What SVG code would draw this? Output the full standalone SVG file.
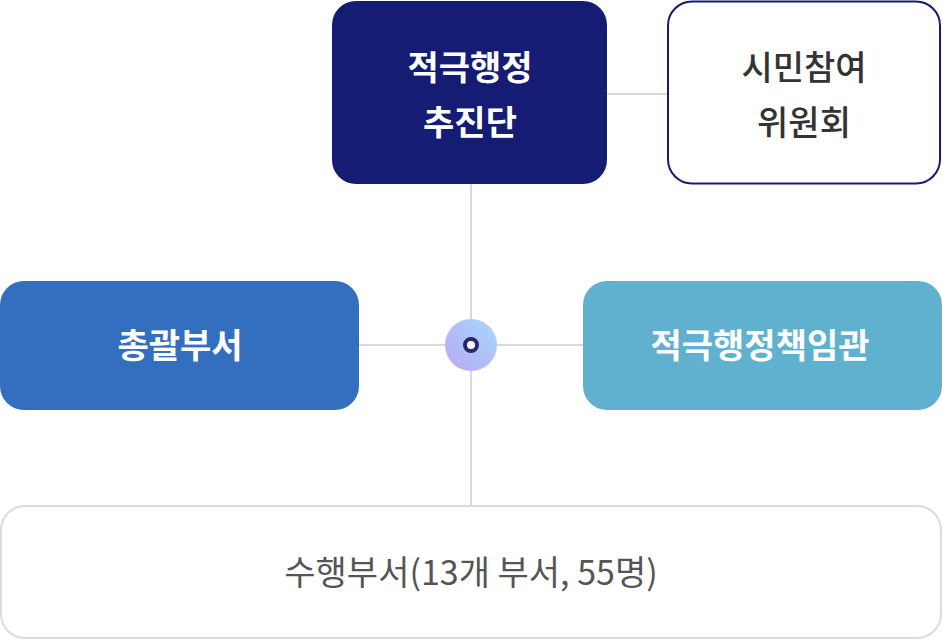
<svg xmlns="http://www.w3.org/2000/svg" width="942" height="640" viewBox="0 0 942 640">
<defs>
<linearGradient id="g" x1="1" y1="0" x2="0" y2="1"><stop offset="0" stop-color="#a6d8fb"/><stop offset="1" stop-color="#bba8f3"/></linearGradient>
<style>
text{font-family:"Noto Sans CJK KR","Noto Sans",sans-serif;text-anchor:middle;font-size:34px;font-weight:bold}
.w{fill:#fff}
.c{stroke:#d9d9d9;stroke-width:2;fill:none}
</style>
</defs>
<rect width="942" height="640" fill="#fff"/>
<g id="connectors">
<line class="c" x1="471" y1="184" x2="471" y2="506"/>
<line class="c" x1="359" y1="345" x2="583" y2="345"/>
<line class="c" x1="606" y1="94" x2="668" y2="94"/>
</g>
<g id="n1"><rect x="332" y="1" width="275" height="183" rx="24" fill="#141c73"/>
<text class="w" x="470" y="80">적극행정</text><text class="w" x="470" y="135">추진단</text></g>
<g id="n2"><rect x="668" y="1.5" width="272" height="182" rx="24" fill="#fff" stroke="#141c73" stroke-width="2"/>
<text x="804" y="80" fill="#333" font-weight="500" style="font-weight:500">시민참여</text><text x="804" y="135" fill="#333" style="font-weight:500">위원회</text></g>
<g id="n3"><rect x="0" y="281" width="359" height="129" rx="24" fill="#336fbe"/>
<text class="w" x="180" y="358">총괄부서</text></g>
<g id="n4"><rect x="583" y="281" width="359" height="129" rx="24" fill="#60b1d0"/>
<text class="w" x="760" y="358">적극행정책임관</text></g>
<g id="center"><circle cx="471" cy="345" r="26" fill="url(#g)"/><circle cx="471" cy="345" r="6" fill="#fff" stroke="#252a6e" stroke-width="4"/></g>
<g id="n5"><rect x="1" y="506" width="940" height="132" rx="24" fill="#fff" stroke="#dcdcdc" stroke-width="2"/>
<text x="471" y="585" fill="#555" style="font-weight:400">수행부서(13개 부서, 55명)</text></g>
</svg>
